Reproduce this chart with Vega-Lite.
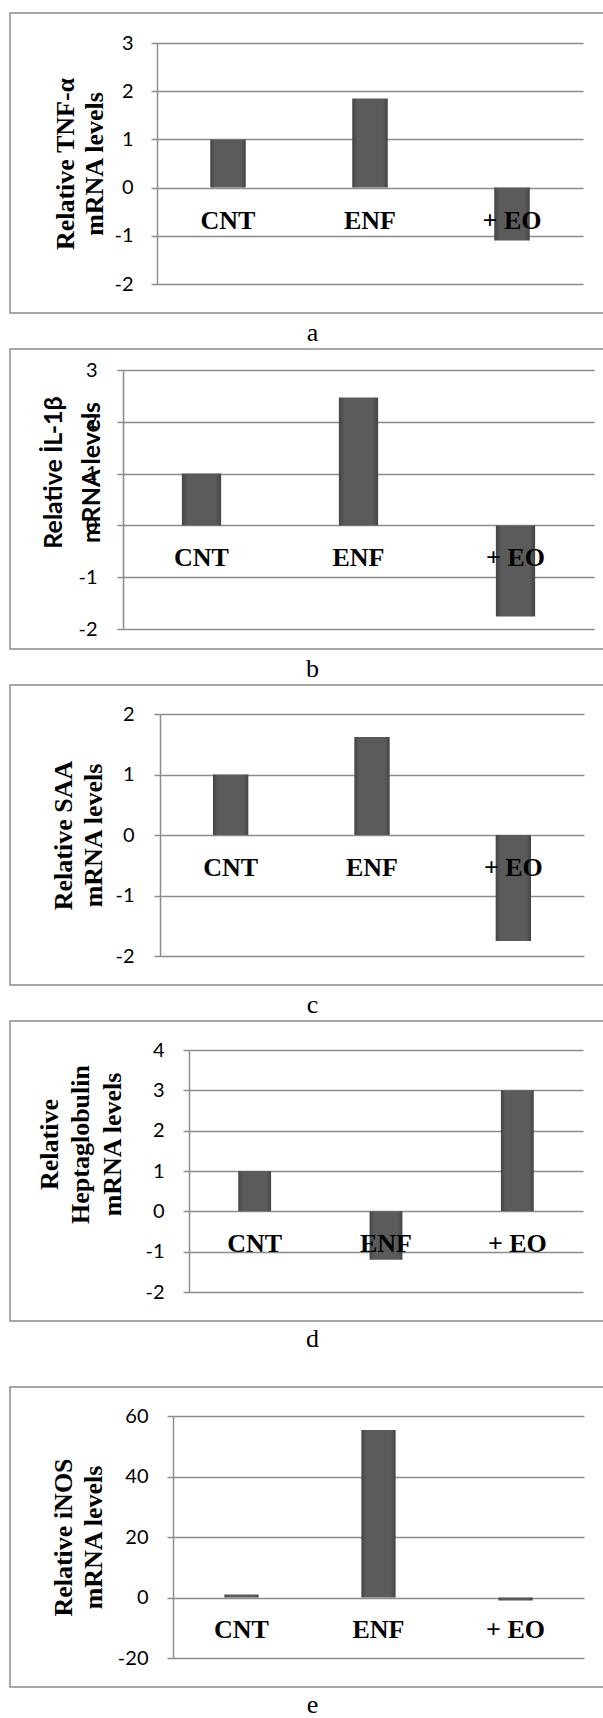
{
  "$schema": "https://vega.github.io/schema/vega-lite/v6.json",
  "usermeta": {"embedOptions": {"actions": false}},
  "background": "white",
  "padding": {"left": 9, "top": 12, "right": 0, "bottom": 0},
  "config": {
    "view": {"stroke": "#8c8c8c", "strokeWidth": 1.5},
    "axisY": {
      "grid": true, "gridColor": "#8c8c8c", "gridWidth": 1.5,
      "domainColor": "#8c8c8c", "domainWidth": 1.5,
      "tickColor": "#8c8c8c", "tickWidth": 1.5, "tickSize": 6,
      "labelFont": "Lato", "labelFontSize": 20, "labelColor": "#000000",
      "labelExpr": "'' + datum.value",
      "titleFont": "Liberation Serif", "titleFontSize": 26, "titleFontWeight": "bold",
      "titleColor": "#000000", "titleBaseline": "alphabetic", "titleAngle": 270
    },
    "axisX": {
      "grid": false, "domain": false, "ticks": false, "tickSize": 0,
      "labelFont": "Liberation Serif", "labelFontSize": 26, "labelFontWeight": "bold",
      "labelColor": "#000000", "labelBaseline": "middle", "labelPadding": 32,
      "labelAngle": 0, "title": null
    },
    "title": {"font": "Liberation Serif", "fontSize": 26, "fontWeight": "normal", "color": "#000000", "orient": "bottom", "anchor": "middle"}
  },
  "datasets": {
    "a": [{"group": "CNT", "value": 1}, {"group": "ENF", "value": 1.85}, {"group": "+ EO", "value": -1.1}],
    "b": [{"group": "CNT", "value": 1}, {"group": "ENF", "value": 2.47}, {"group": "+ EO", "value": -1.76}],
    "c": [{"group": "CNT", "value": 1}, {"group": "ENF", "value": 1.62}, {"group": "+ EO", "value": -1.75}],
    "d": [{"group": "CNT", "value": 1}, {"group": "ENF", "value": -1.2}, {"group": "+ EO", "value": 3.0}],
    "e": [{"group": "CNT", "value": 1}, {"group": "ENF", "value": 55.4}, {"group": "+ EO", "value": -1}]
  },
  "bounds": "flush",
  "spacing": 1374,
  "vconcat": [
    {
      "bounds": "flush",
      "spacing": 36,
      "vconcat": [
        {
          "width": 605, "height": 300,
          "data": {"name": "a"},
          "title": {"text": "a", "baseline": "top", "offset": 7},
          "mark": {"type": "bar", "color": {"gradient": "linear", "x1": 0, "y1": 0, "x2": 1, "y2": 0, "stops": [{"offset": 0, "color": "#444444"}, {"offset": 0.14, "color": "#5b5b5b"}, {"offset": 0.86, "color": "#5b5b5b"}, {"offset": 1, "color": "#444444"}]}},
          "encoding": {
            "x": {"field": "group", "type": "nominal", "sort": ["CNT", "ENF", "+ EO"],
                  "scale": {"range": [147, 573], "paddingInner": 0.75, "paddingOuter": 0.375},
                  "axis": {"offset": -125, "zindex": 1}},
            "y": {"field": "value", "type": "quantitative",
                  "scale": {"domain": [-2, 3], "range": [271, 30], "nice": false, "zero": false},
                  "axis": {"values": [-2, -1, 0, 1, 2, 3], "offset": -147, "labelPadding": 18,
                           "title": ["Relative TNF-α", "mRNA levels"], "titleLineHeight": 29, "titleX": -84}}
          }
        },
        {
          "width": 605, "height": 300,
          "data": {"name": "b"},
          "title": {"text": "b", "baseline": "top", "offset": 7},
          "mark": {"type": "bar", "color": {"gradient": "linear", "x1": 0, "y1": 0, "x2": 1, "y2": 0, "stops": [{"offset": 0, "color": "#444444"}, {"offset": 0.14, "color": "#5b5b5b"}, {"offset": 0.86, "color": "#5b5b5b"}, {"offset": 1, "color": "#444444"}]}},
          "encoding": {
            "x": {"field": "group", "type": "nominal", "sort": ["CNT", "ENF", "+ EO"],
                  "scale": {"range": [113, 584], "paddingInner": 0.75, "paddingOuter": 0.375},
                  "axis": {"offset": -124, "zindex": 1}},
            "y": {"field": "value", "type": "quantitative",
                  "scale": {"domain": [-2, 3], "range": [280, 21], "nice": false, "zero": false},
                  "axis": {"values": [-2, -1, 0, 1, 2, 3], "offset": -113, "labelPadding": 20,
                           "title": ["Relative İL-1β", "mRNA levels"], "titleFont": "Lato", "titleFontSize": 25,
                           "titleLineHeight": 38, "titleX": -62, "titleY": 123}}
          }
        },
        {
          "width": 605, "height": 300,
          "data": {"name": "c"},
          "title": {"text": "c", "baseline": "top", "offset": 7},
          "mark": {"type": "bar", "color": {"gradient": "linear", "x1": 0, "y1": 0, "x2": 1, "y2": 0, "stops": [{"offset": 0, "color": "#444444"}, {"offset": 0.14, "color": "#5b5b5b"}, {"offset": 0.86, "color": "#5b5b5b"}, {"offset": 1, "color": "#444444"}]}},
          "encoding": {
            "x": {"field": "group", "type": "nominal", "sort": ["CNT", "ENF", "+ EO"],
                  "scale": {"range": [150, 574], "paddingInner": 0.75, "paddingOuter": 0.375},
                  "axis": {"offset": -150, "zindex": 1}},
            "y": {"field": "value", "type": "quantitative",
                  "scale": {"domain": [-2, 2], "range": [271, 29], "nice": false, "zero": false},
                  "axis": {"values": [-2, -1, 0, 1, 2], "offset": -150, "labelPadding": 20,
                           "title": ["Relative SAA", "mRNA levels"], "titleLineHeight": 30, "titleX": -89}}
          }
        },
        {
          "width": 605, "height": 300,
          "data": {"name": "d"},
          "title": {"text": "d", "baseline": "top", "offset": 5},
          "mark": {"type": "bar", "color": {"gradient": "linear", "x1": 0, "y1": 0, "x2": 1, "y2": 0, "stops": [{"offset": 0, "color": "#444444"}, {"offset": 0.14, "color": "#5b5b5b"}, {"offset": 0.86, "color": "#5b5b5b"}, {"offset": 1, "color": "#444444"}]}},
          "encoding": {
            "x": {"field": "group", "type": "nominal", "sort": ["CNT", "ENF", "+ EO"],
                  "scale": {"range": [179, 573], "paddingInner": 0.75, "paddingOuter": 0.375},
                  "axis": {"offset": -110, "zindex": 1}},
            "y": {"field": "value", "type": "quantitative",
                  "scale": {"domain": [-2, 4], "range": [271, 29], "nice": false, "zero": false},
                  "axis": {"values": [-2, -1, 0, 1, 2, 3, 4], "offset": -179, "labelPadding": 19,
                           "title": ["Relative", "Heptaglobulin", "mRNA levels"], "titleLineHeight": 31.5,
                           "titleX": -132, "titleY": 123}}
          }
        }
      ]
    },
    {
      "width": 605, "height": 300,
      "data": {"name": "e"},
      "title": {"text": "e", "baseline": "top", "offset": 5},
      "mark": {"type": "bar", "color": {"gradient": "linear", "x1": 0, "y1": 0, "x2": 1, "y2": 0, "stops": [{"offset": 0, "color": "#444444"}, {"offset": 0.14, "color": "#5b5b5b"}, {"offset": 0.86, "color": "#5b5b5b"}, {"offset": 1, "color": "#444444"}]}},
      "encoding": {
        "x": {"field": "group", "type": "nominal", "sort": ["CNT", "ENF", "+ EO"],
              "scale": {"range": [163, 574], "paddingInner": 0.75, "paddingOuter": 0.375},
              "axis": {"offset": -90, "zindex": 1}},
        "y": {"field": "value", "type": "quantitative",
              "scale": {"domain": [-20, 60], "range": [271, 29], "nice": false, "zero": false},
              "axis": {"values": [-20, 0, 20, 40, 60], "offset": -163, "labelPadding": 19,
                       "title": ["Relative iNOS", "mRNA levels"], "titleLineHeight": 30, "titleX": -102}}
      }
    }
  ]
}
